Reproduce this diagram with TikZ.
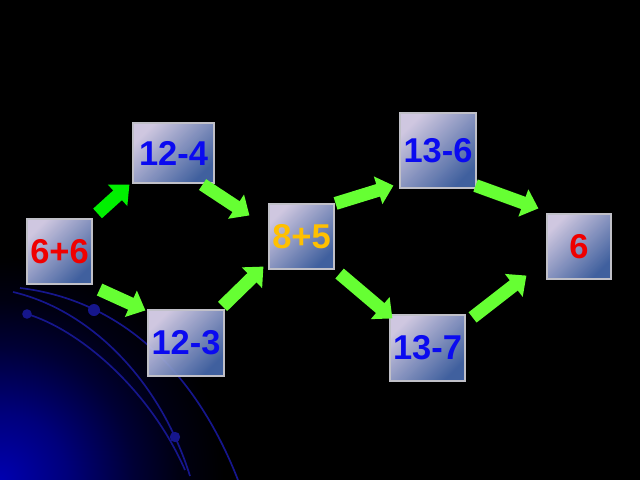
\documentclass[tikz,border=0pt]{standalone}
\usepackage{fontspec}
\setmainfont{Liberation Sans}
\usetikzlibrary{shapes, arrows.meta, calc}
\definecolor{cardlight}{HTML}{DCD4EE}
\definecolor{cardmid}{HTML}{A8B5DE}
\definecolor{carddark}{HTML}{4466A8}
\definecolor{cardedge}{HTML}{C0C0C8}
\definecolor{arrowgreen}{HTML}{66FF33}
\definecolor{brightgreen}{HTML}{00F000}
\definecolor{numblue}{HTML}{0A0AF0}
\definecolor{numred}{HTML}{F00000}
\definecolor{numgold}{HTML}{FFC000}
\definecolor{glowblue}{HTML}{0000B0}
\definecolor{orbitblue}{HTML}{16168C}
\pgfdeclareradialshading{cornerglow}{\pgfpoint{0bp}{0bp}}{color(0bp)=(glowblue); color(7.5bp)=(glowblue!70!black); color(15bp)=(glowblue!30!black); color(20bp)=(glowblue!10!black); color(25bp)=(black); color(50bp)=(black)}

\begin{document}
\begin{tikzpicture}[x=0.025cm, y=-0.025cm]
        \tikzstyle{card} = [rectangle, draw=cardedge, line width=0.8pt, top color=cardlight, middle color=cardmid, bottom color=carddark, shading angle=45, fill opacity=0.94, text opacity=1, inner sep=0pt, font=\fontsize{24.5}{29}\selectfont\bfseries]
        \tikzstyle{blockarrow} = [arrowgreen, line width=0.325cm, -{Triangle[length=0.4cm, width=0.7cm]}]
        \tikzstyle{orbit} = [orbitblue, line width=1.2pt]

        \fill[black] (0,0) rectangle (640,480);
        \begin{scope}
            \clip (0,0) rectangle (640,480);
            \shade[shading=cornerglow] (0,480) circle (5.6cm);
            \draw[orbit] (20,288) .. controls (120,300) and (195,370) .. (238,480);
            \draw[orbit] (13,292) .. controls (90,310) and (160,380) .. (190,476);
            \draw[orbit] (27,314) .. controls (80,330) and (150,390) .. (185,470);
            \fill[orbitblue] (94,310) circle (0.15cm);
            \fill[orbitblue] (27,314) circle (0.12cm);
            \fill[orbitblue] (175,437) circle (0.13cm);
        \end{scope}
        \useasboundingbox (0,0) rectangle (640,480);

        \node (s66) [card, text=numred, minimum width=1.625cm, minimum height=1.625cm] at (59.5,251.5) {6+6};
        \node (a124) [card, text=numblue, minimum width=2.025cm, minimum height=1.5cm] at (173.5,153) {12-4};
        \node (a123) [card, text=numblue, minimum width=1.9cm, minimum height=1.65cm] at (186,343) {12-3};
        \node (m85) [card, text=numgold, minimum width=1.625cm, minimum height=1.625cm] at (301.5,236.5) {8+5};
        \node (b136) [card, text=numblue, minimum width=1.9cm, minimum height=1.875cm] at (438,150.5) {13-6};
        \node (b137) [card, text=numblue, minimum width=1.875cm, minimum height=1.65cm] at (427.5,348) {13-7};
        \node (r6) [card, text=numred, minimum width=1.6cm, minimum height=1.625cm] at (579,246.5) {6};

        \draw[blockarrow, brightgreen] ($(s66.north east)+(5,-5)$) -- ($(a124.south west)+(-3,1)$);
        \draw[blockarrow] ($(a124.south east)+(-12,1)$) -- ($(m85.north west)+(-19,12)$);
        \draw[blockarrow] ($(s66.south east)+(7,5)$) -- ($(a123.north west)+(-2,1)$);
        \draw[blockarrow] ($(a123.north east)+(-2,-3)$) -- ($(m85.south west)+(-5,-3)$);
        \draw[blockarrow] ($(m85.north east)+(1,0)$) -- ($(b136.south west)+(-6,-3)$);
        \draw[blockarrow] ($(b136.south east)+(-1,-3)$) -- ($(r6.north west)+(-8,-5)$);
        \draw[blockarrow] ($(m85.south east)+(5,4)$) -- ($(b137.north west)+(3,4)$);
        \draw[blockarrow] ($(b137.north east)+(7,3)$) -- ($(r6.south west)+(-20,-4)$);

    \end{tikzpicture}
\end{document}
